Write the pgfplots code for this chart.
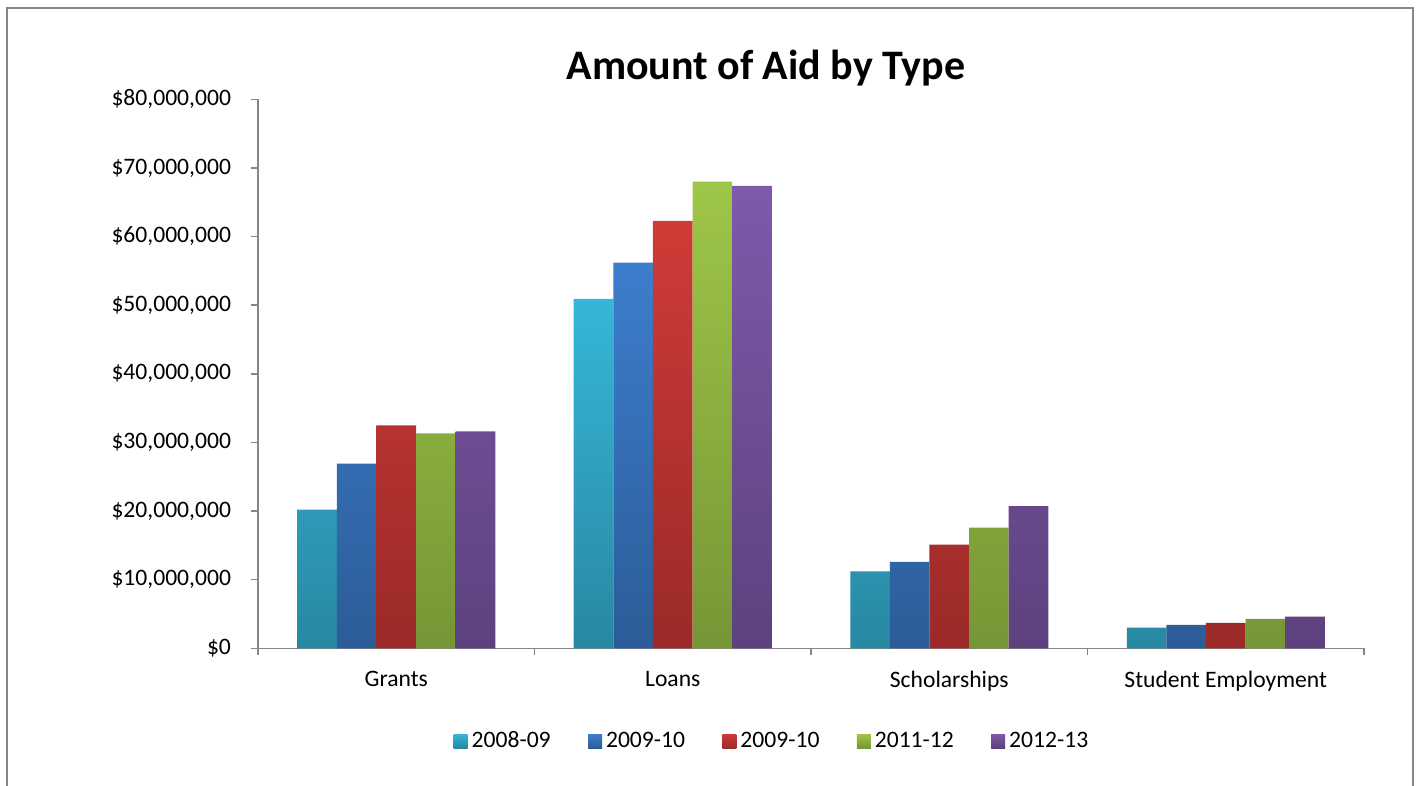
\documentclass[border=0pt]{standalone}
\usepackage{pgfplots}
\pgfplotsset{compat=1.18}
\usepackage{fontspec}
\setmainfont{Carlito}
\definecolor{c1t}{RGB}{54,182,216}
\definecolor{c1b}{RGB}{40,136,162}
\definecolor{c2t}{RGB}{60,126,205}
\definecolor{c2b}{RGB}{44,92,152}
\definecolor{c3t}{RGB}{208,59,55}
\definecolor{c3b}{RGB}{154,42,40}
\definecolor{c4t}{RGB}{158,198,72}
\definecolor{c4b}{RGB}{118,150,54}
\definecolor{c5t}{RGB}{126,90,170}
\definecolor{c5b}{RGB}{93,66,126}
\definecolor{axgray}{RGB}{134,134,134}
\pgfplotstableread{
x y1 y2 y3 y4 y5
0 20200000 26900000 32500000 31300000 31600000
1 50900000 56200000 62300000 68000000 67400000
2 11200000 12600000 15100000 17600000 20700000
3 3000000 3400000 3700000 4300000 4600000
}\aid
\begin{document}
\begin{tikzpicture}
\useasboundingbox (0,0) rectangle (710.5pt,393pt);
\draw[color=axgray, line width=0.75pt] (3.5pt,-5pt) -- (3.5pt,389pt) -- (706.5pt,389pt) -- (706.5pt,-5pt);
\node[font=\fontsize{21}{25}\selectfont\bfseries] at (383pt,359pt) {Amount of Aid by Type};
\begin{axis}[
  at={(129pt,68.85pt)}, anchor=south west,
  width=553pt, height=274.5pt, scale only axis,
  ybar=0pt, bar width=19.8pt,
  xmin=-0.5, xmax=3.5, ymin=0, ymax=80000000,
  xtick={-0.5,0.5,1.5,2.5,3.5},
  xticklabels={Grants,Loans,Scholarships,Student Employment},
  x tick label as interval,
  ytick={0,10000000,20000000,30000000,40000000,50000000,60000000,70000000,80000000},
  yticklabels={{\$0},{\$10,000,000},{\$20,000,000},{\$30,000,000},{\$40,000,000},{\$50,000,000},{\$60,000,000},{\$70,000,000},{\$80,000,000}},
  scaled y ticks=false,
  axis x line*=bottom, axis y line*=left,
  axis line style={color=axgray, line width=0.75pt, -},
  tick align=outside, major tick length=3.5pt,
  tick style={color=axgray, line width=0.75pt},
  ticklabel style={font=\fontsize{11.8}{14}\selectfont, text=black},
  yticklabel style={xshift=-6.5pt},
  xticklabel style={yshift=-4.5pt},
  legend columns=5,
  legend style={draw=none, fill=none, at={(0.4656,-0.1689)}, anchor=center,
    font=\fontsize{11.8}{14}\selectfont,
    /tikz/every even column/.append style={column sep=16.7pt}},
  legend image code/.code={\path[#1] (0pt,-3.5pt) rectangle (7pt,3.5pt);},
]
\addplot[draw=none, top color=c1t, bottom color=c1b] table[x=x,y=y1] {\aid};
\addplot[draw=none, top color=c2t, bottom color=c2b] table[x=x,y=y2] {\aid};
\addplot[draw=none, top color=c3t, bottom color=c3b] table[x=x,y=y3] {\aid};
\addplot[draw=none, top color=c4t, bottom color=c4b] table[x=x,y=y4] {\aid};
\addplot[draw=none, top color=c5t, bottom color=c5b] table[x=x,y=y5] {\aid};
\legend{2008-09,2009-10,2009-10,2011-12,2012-13}
\end{axis}
\end{tikzpicture}
\end{document}
